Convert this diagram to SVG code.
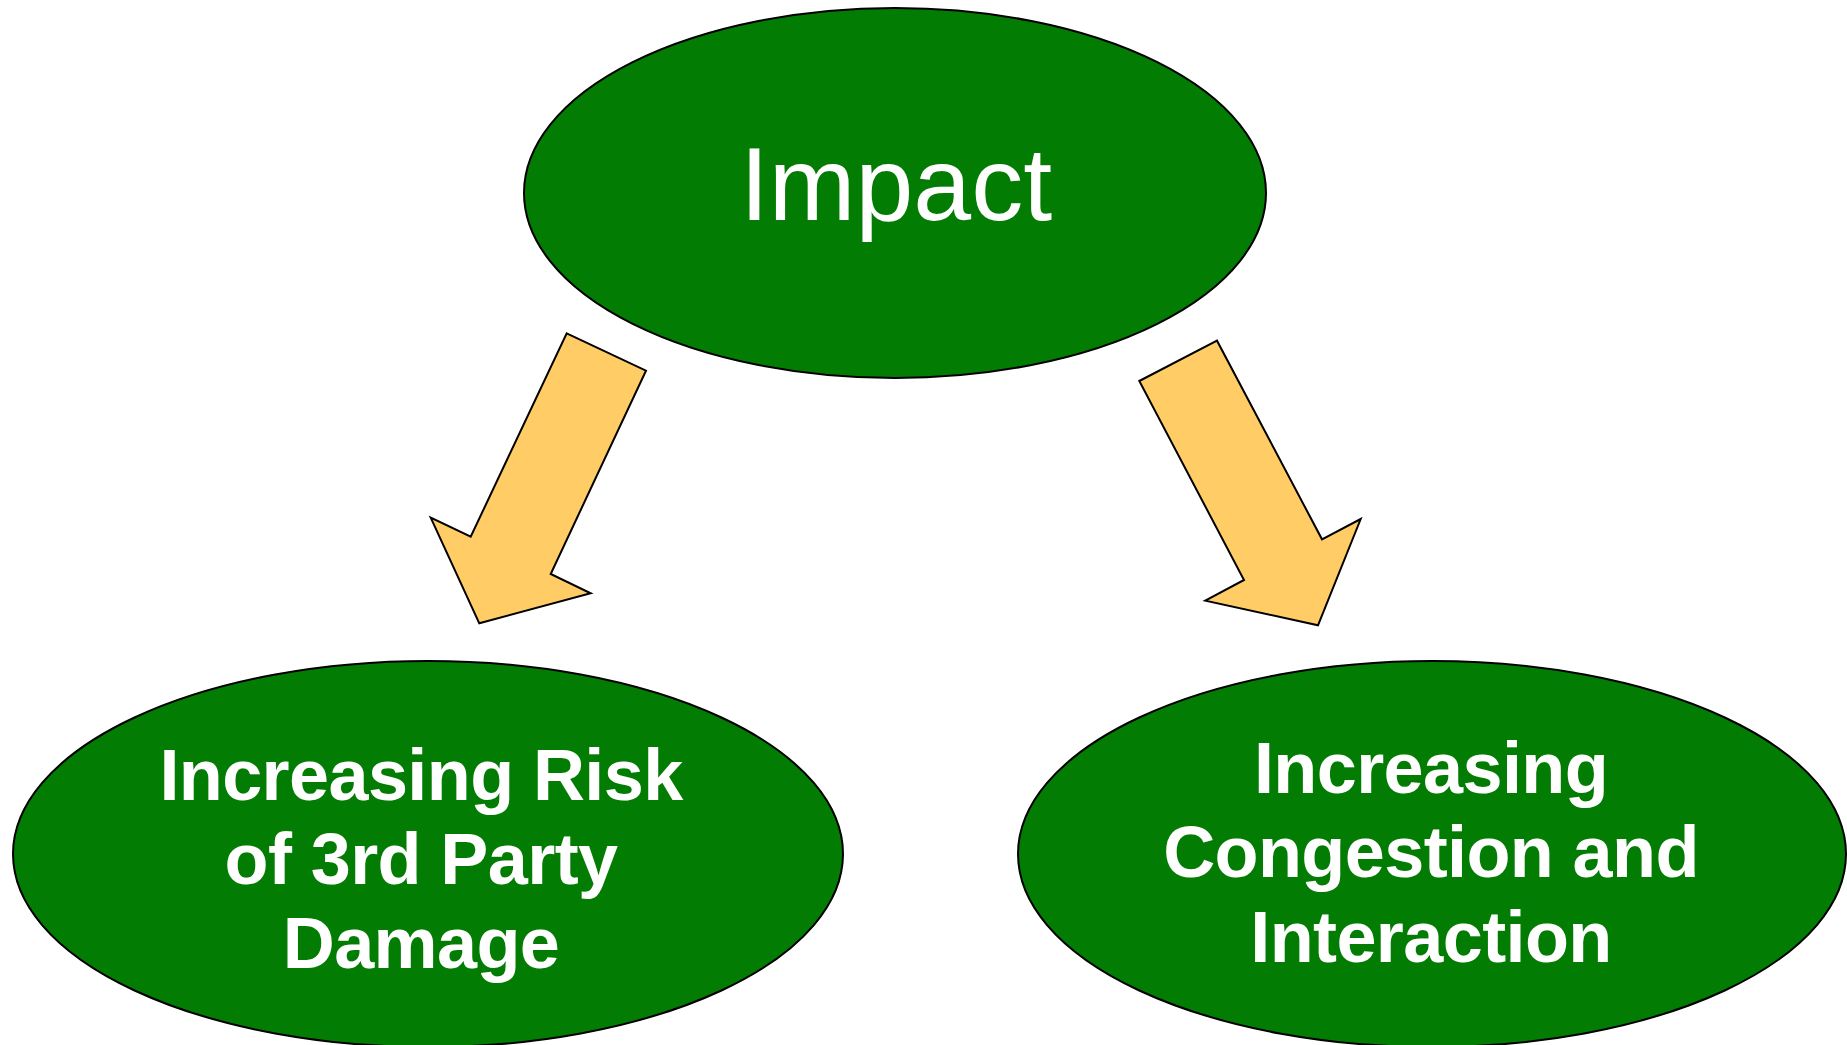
<svg xmlns="http://www.w3.org/2000/svg" width="1847" height="1045" viewBox="0 0 1847 1045">
<style>
.node{fill:#037c03;stroke:#000;stroke-width:2}
.arrow{fill:#ffcc66;stroke:#000;stroke-width:2;stroke-linejoin:miter}
.t{fill:#fff;font-family:"Liberation Sans",Arial,sans-serif;text-anchor:middle}
.big{font-size:104px}
.bold{font-size:72px;font-weight:bold;letter-spacing:-0.6px}
</style>
<rect width="1847" height="1045" fill="#fff"/>
<g id="connectors">
<polygon class="arrow" points="566.7,333.3 646,370.7 550.7,574 590.7,593.3 479.3,623.3 430.7,517.7 470.7,536.7"/>
<polygon class="arrow" points="1139.3,381 1217,340.7 1322,539.3 1360.7,519 1318,625.3 1205.3,600.7 1244,580"/>
</g>
<g id="impact">
<ellipse class="node" cx="895" cy="193" rx="371" ry="185"/>
<text class="t big" x="896" y="220">Impact</text>
</g>
<g id="risk">
<ellipse class="node" cx="428" cy="854" rx="415" ry="193"/>
<text class="t bold" x="421" y="800">Increasing Risk</text>
<text class="t bold" x="421" y="884">of 3rd Party</text>
<text class="t bold" x="421" y="968">Damage</text>
</g>
<g id="congestion">
<ellipse class="node" cx="1432" cy="854" rx="414" ry="193"/>
<text class="t bold" x="1431" y="793">Increasing</text>
<text class="t bold" x="1431" y="877">Congestion and</text>
<text class="t bold" x="1431" y="962">Interaction</text>
</g>
</svg>
